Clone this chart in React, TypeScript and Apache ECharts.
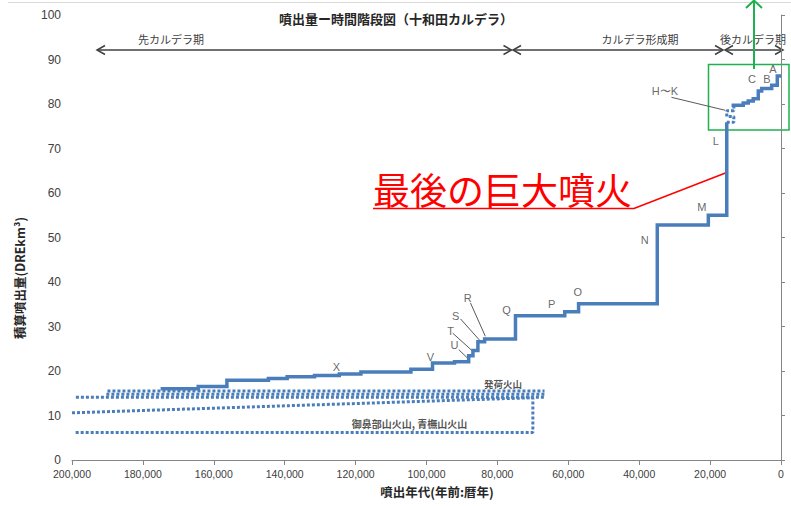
import React, { useEffect, useRef } from 'react';
import * as echarts from 'echarts';

// ---- data (years before present, cumulative DRE km3) ----
const mainYears = [175000, 164400, 156300, 144600, 139300, 131600, 124600, 118500, 104400, 98300, 92100, 88100, 86900, 85500, 83600, 74900, 61000, 57100, 34900, 20500, 15300];
const mainVolumes = [16.0, 16.5, 17.9, 18.3, 18.7, 19.0, 19.3, 19.8, 20.4, 21.8, 22.1, 23.4, 24.6, 26.6, 27.2, 32.4, 33.3, 35.1, 52.8, 55.0, 75.9];

const hkYears = [15300, 13300, 13300, 15300, 15300, 13300, 13300, 13900];
const hkVolumes = [75.9, 75.9, 77.2, 77.2, 78.5, 78.5, 79.7, 79.7];

const postYears = [13900, 10650, 9240, 7830, 6410, 5450, 2630, 1050, 0];
const postVolumes = [79.7, 80.2, 80.7, 81.2, 82.9, 83.5, 84.2, 86.3, 86.3];

const hakkodaLowYears = [198900, 66700];
const hakkodaLowVolumes = [14.1, 14.1];
const hakkodaMidYears = [190300, 66700];
const hakkodaMidVolumes = [14.8, 14.8];
const hakkodaTopYears = [190000, 66700];
const hakkodaTopVolumes = [15.5, 15.5];

const ohanabeYears = [200000, 70000, 70000, 199400];
const ohanabeVolumes = [10.6, 14.0, 6.2, 6.2];

const letterNames = ['A', 'B', 'C', 'H〜K', 'L', 'M', 'N', 'O', 'P', 'Q', 'R', 'S', 'T', 'U', 'V', 'X'];
const letterYears = [2260, 3950, 8190, 32770, 18360, 22320, 38420, 57350, 64700, 77400, 88400, 91800, 93200, 92100, 98900, 125400];
const letterVolumes = [87.8, 85.6, 85.6, 82.9, 71.6, 56.8, 49.5, 37.8, 35.1, 33.8, 36.5, 32.4, 29.1, 25.9, 23.2, 20.9];

const leaderYears = [[30900, 15800], [87600, 83400], [90400, 85000], [92600, 86900], [90900, 87900]];
const leaderVolumes = [[81.5, 78.6], [35.3, 27.8], [31.7, 26.9], [28.5, 24.4], [24.8, 22.5]];

const groupNames = ['発荷火山', '御鼻部山火山, 青橅山火山'];
const groupYears = [78400, 104800];
const groupVolumes = [17.1, 8.3];
const groupFontSizes = [9.5, 10];

const periodNames = ['先カルデラ期', 'カルデラ形成期', '後カルデラ期'];

const BLUE = '#4a7ebb';
const GREEN = '#1fb050';
const GRAY = '#404040';

function stepPoints(xs: number[], ys: number[]) {
  const pts: number[][] = [];
  xs.forEach((x, i) => {
    if (i > 0) pts.push([x, ys[i - 1]]);
    pts.push([x, ys[i]]);
  });
  return pts;
}
function zipPts(xs: number[], ys: number[]) {
  return xs.map((x, i) => [x, ys[i]]);
}

function arrow(x1: number, x2: number, y: number) {
  const st = { stroke: GRAY, lineWidth: 1.5 };
  return [
    { type: 'line', shape: { x1, y1: y, x2, y2: y }, style: st },
    { type: 'polyline', shape: { points: [[x1 + 8, y - 4.5], [x1, y], [x1 + 8, y + 4.5]] }, style: st },
    { type: 'polyline', shape: { points: [[x2 - 8, y - 4.5], [x2, y], [x2 - 8, y + 4.5]] }, style: st },
  ];
}

const CJK = "'Noto Sans CJK JP', sans-serif";
const LAT = "'Liberation Sans', Arial, sans-serif";

const dotted = (data: number[][]) => ({
  type: 'line',
  data,
  symbol: 'none',
  silent: true,
  z: 3,
  lineStyle: { color: BLUE, width: 3, type: [3, 2], cap: 'butt' },
});

const option: any = {
  animation: false,
  backgroundColor: '#ffffff',
  grid: { left: 72, right: 10, top: 15, bottom: 46 },
  xAxis: {
    type: 'value',
    min: 0,
    max: 200000,
    interval: 20000,
    inverse: true,
    axisLine: { show: true, lineStyle: { color: '#868686', width: 1 } },
    axisTick: { show: true, length: 5, lineStyle: { color: '#868686' } },
    splitLine: { show: false },
    axisLabel: {
      showMinLabel: true,
      showMaxLabel: true,
      margin: 8,
      color: GRAY,
      fontSize: 10.5,
      fontFamily: "'Liberation Sans Narrow', 'Arial Narrow', 'Liberation Sans', sans-serif",
      formatter: (v: number) => v.toLocaleString('en-US'),
    },
  },
  yAxis: {
    type: 'value',
    min: 0,
    max: 100,
    interval: 10,
    axisLine: { show: true, lineStyle: { color: '#868686', width: 1 } },
    axisTick: { show: true, inside: true, length: 4, lineStyle: { color: '#868686' } },
    splitLine: { show: false },
    axisLabel: { color: GRAY, fontSize: 12, fontFamily: LAT, margin: 11 },
  },
  series: [
    dotted(zipPts(hakkodaLowYears, hakkodaLowVolumes)),
    dotted(zipPts(hakkodaMidYears, hakkodaMidVolumes)),
    dotted(zipPts(hakkodaTopYears, hakkodaTopVolumes)),
    dotted(zipPts(ohanabeYears, ohanabeVolumes)),
    dotted(zipPts(hkYears, hkVolumes)),
    {
      type: 'line',
      data: stepPoints(mainYears, mainVolumes),
      symbol: 'none',
      silent: true,
      z: 5,
      lineStyle: { color: BLUE, width: 3.5, cap: 'butt', join: 'miter' },
    },
    {
      type: 'line',
      data: stepPoints(postYears, postVolumes),
      symbol: 'none',
      silent: true,
      z: 5,
      lineStyle: { color: BLUE, width: 3.5, cap: 'butt', join: 'miter' },
    },
    ...leaderYears.map((ys, i) => ({
      type: 'line',
      data: zipPts(ys, leaderVolumes[i]),
      symbol: 'none',
      silent: true,
      z: 4,
      lineStyle: { color: '#595959', width: 1 },
    })),
    {
      type: 'scatter',
      silent: true,
      symbolSize: 1,
      itemStyle: { color: 'rgba(0,0,0,0)' },
      z: 6,
      data: letterNames.map((n, i) => ({ name: n, value: [letterYears[i], letterVolumes[i]] })),
      label: {
        show: true,
        position: 'inside',
        formatter: '{b}',
        color: GRAY,
        fontSize: 11,
        fontFamily: LAT,
      },
    },
    {
      type: 'scatter',
      silent: true,
      symbolSize: 1,
      itemStyle: { color: 'rgba(0,0,0,0)' },
      z: 6,
      data: groupNames.map((n, i) => ({
        name: n,
        value: [groupYears[i], groupVolumes[i]],
        label: { fontSize: groupFontSizes[i] },
      })),
      label: {
        show: true,
        position: 'inside',
        formatter: '{b}',
        color: '#262626',
        fontWeight: 'bold',
        fontFamily: CJK,
      },
    },
  ],
  graphic: [
    { type: 'line', shape: { x1: 8, y1: 2.5, x2: 791, y2: 2.5 }, style: { stroke: '#d9d9d9', lineWidth: 1 } },
    {
      type: 'text', x: 396, y: 18,
      style: { text: '噴出量ー時間階段図（十和田カルデラ）', fontSize: 13, fontWeight: 'bold', fontFamily: CJK, fill: '#262626', align: 'center', verticalAlign: 'middle' },
    },
    ...arrow(97, 511.5, 50),
    ...arrow(513, 723, 50),
    ...arrow(725, 783, 50),
    { type: 'text', x: 171, y: 39, style: { text: periodNames[0], fontSize: 11, fontFamily: CJK, fill: GRAY, align: 'center', verticalAlign: 'middle' } },
    { type: 'text', x: 640, y: 39, style: { text: periodNames[1], fontSize: 11, fontFamily: CJK, fill: GRAY, align: 'center', verticalAlign: 'middle' } },
    { type: 'text', x: 753, y: 39, style: { text: periodNames[2], fontSize: 11, fontFamily: CJK, fill: GRAY, align: 'center', verticalAlign: 'middle' } },
    // green box and arrow
    { type: 'rect', shape: { x: 708.5, y: 64.5, width: 80.5, height: 65.5 }, style: { stroke: GREEN, fill: null, lineWidth: 1.5 } },
    { type: 'line', shape: { x1: 754, y1: 69, x2: 754, y2: 1 }, style: { stroke: GREEN, lineWidth: 2 } },
    { type: 'polyline', shape: { points: [[746, 8], [754, 0.5], [762, 8]] }, style: { stroke: GREEN, lineWidth: 2 } },
    // red annotation
    {
      type: 'text', x: 373, y: 189,
      style: { text: '最後の巨大噴火', fontSize: 37, fontFamily: CJK, fill: '#ff0000', align: 'left', verticalAlign: 'middle' },
    },
    { type: 'polyline', shape: { points: [[373, 208.5], [634, 208.5], [728, 172]] }, style: { stroke: '#ff0000', lineWidth: 1.6 } },
    // axis names
    {
      type: 'text', x: 19, y: 278, rotation: Math.PI / 2,
      style: { text: '積算噴出量(DREkm³)', fontSize: 12.5, fontWeight: 'bold', fontFamily: CJK, fill: '#262626', align: 'center', verticalAlign: 'middle' },
    },
    {
      type: 'text', x: 437, y: 491,
      style: { text: '噴出年代(年前:暦年)', fontSize: 12.5, fontWeight: 'bold', fontFamily: CJK, fill: '#262626', align: 'center', verticalAlign: 'middle' },
    },
  ],
};

export default function App() {
  const ref = useRef<HTMLDivElement>(null);
  useEffect(() => {
    document.body.style.margin = '0';
    const chart = echarts.init(ref.current!, null, { renderer: 'svg' });
    chart.setOption(option);
    return () => chart.dispose();
  }, []);
  return <div ref={ref} style={{ width: 791, height: 506, background: '#ffffff' }} />;
}
